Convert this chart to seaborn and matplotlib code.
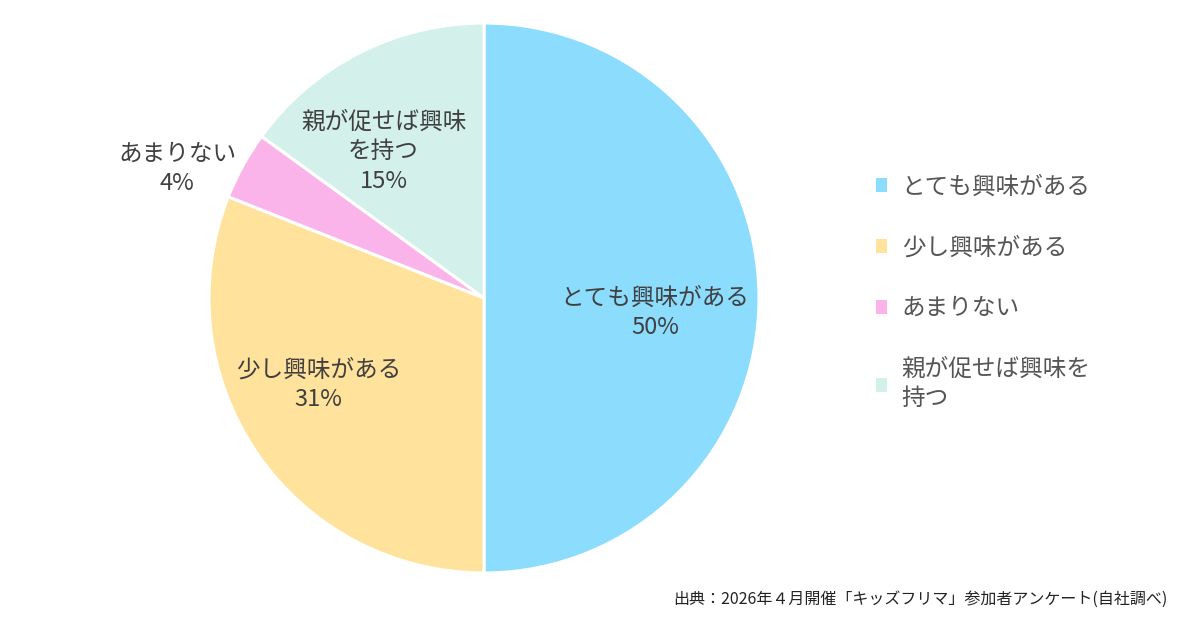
import numpy as np
import matplotlib
matplotlib.use("Agg")
import matplotlib.pyplot as plt
import seaborn as sns
from matplotlib.patches import Patch

# survey answers (pie slices, clockwise from 12 o'clock)
categories = ["とても興味がある", "少し興味がある", "あまりない", "親が促せば興味を持つ"]
slice_labels = ["とても興味がある", "少し興味がある", "あまりない", "親が促せば興味\nを持つ"]
legend_labels = ["とても興味がある", "少し興味がある", "あまりない", "親が促せば興味を\n持つ"]
shares = [50, 31, 4, 15]
source_note = "出典：2026年４月開催「キッズフリマ」参加者アンケート(自社調べ)"

sns.set_theme(style="white")
plt.rcParams["font.family"] = ["Noto Sans CJK JP", "DejaVu Sans"]

colors = ["#8cdcfe", "#ffe29c", "#fab4ea", "#d3f0eb"]
label_r = [0.625, 0.68, 1.21, 0.645]
label_nudge = [-5, -6.5, 6, 7.5]  # degrees
text_col = "#404040"

fig = plt.figure(figsize=(12, 6.3), dpi=100)
ax = fig.add_axes([203.5 / 1200, 51.5 / 630, 561 / 1200, 561 / 630])

wedges, _ = ax.pie(shares, colors=colors, startangle=90, counterclock=False,
                   wedgeprops=dict(edgecolor="white", linewidth=2.2))
ax.set_xlim(-1.02, 1.02)
ax.set_ylim(-1.02, 1.02)

for w, lab, val, r, nd in zip(wedges, slice_labels, shares, label_r, label_nudge):
    mid = np.deg2rad((w.theta1 + w.theta2) / 2 + nd)
    x, y = r * np.cos(mid), r * np.sin(mid)
    ax.text(x, y, f"{lab}\n{val}%", ha="center", va="center", fontsize=17,
            color=text_col, linespacing=1.36, clip_on=False)

handles = [Patch(facecolor=c, edgecolor="none") for c in colors]
leg = fig.legend(handles, legend_labels, loc="upper left", bbox_to_anchor=(0.712, 0.755),
                 frameon=False, fontsize=17, handlelength=0.5, handleheight=0.5,
                 handletextpad=0.6, labelspacing=1.6, labelcolor="#555555")
for t in leg.get_texts():
    t.set_linespacing(1.36)

fig.text(0.973, 0.035, source_note, ha="right", va="bottom", fontsize=11.5, color="#222222")

fig.savefig("out.png", dpi=100)
